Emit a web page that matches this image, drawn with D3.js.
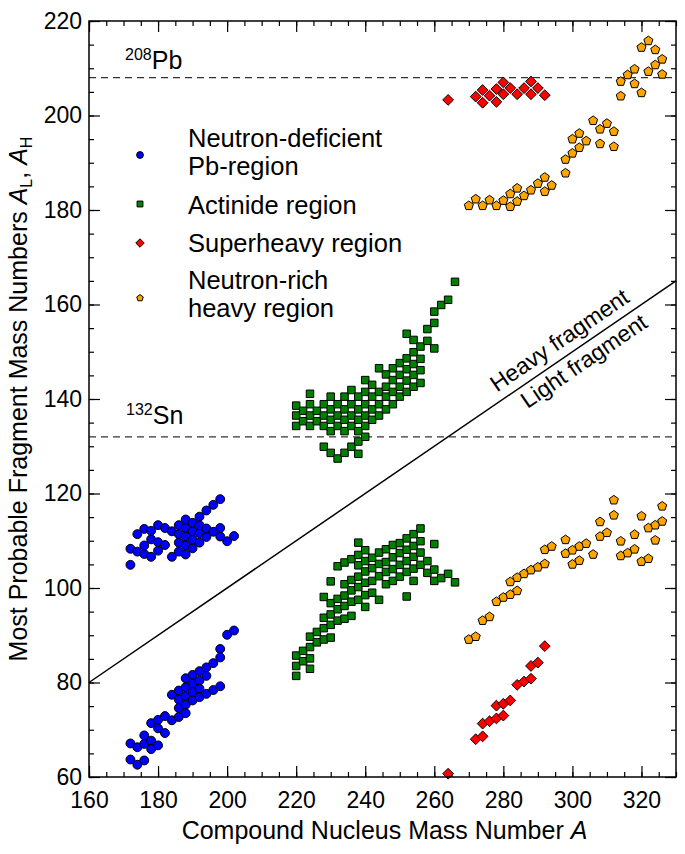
<!DOCTYPE html>
<html><head><meta charset="utf-8">
<script src="https://cdn.jsdelivr.net/npm/d3@7"></script>
<style>
html,body{margin:0;padding:0;background:#fff;}
svg{display:block;font-family:"Liberation Sans",Arial,Helvetica,sans-serif;}
</style></head>
<body><svg id="c" width="685" height="854"></svg>
<script>
// ---------- data: [compound nucleus A, fragment mass] ----------
const pbHeavy = [[172,104.9],[172,108.3],[174,107.7],[174,111.4],[176,107.2],[176,109.0],[176,112.5],[178,106.6],[178,110.3],[178,112.1],[180,107.9],[180,109.7],[180,113.3],[182,109.1],[182,112.7],[184,106.6],[184,112.0],[186,107.7],[186,109.6],[186,111.4],[186,113.3],[188,107.1],[188,109.0],[188,110.9],[188,112.7],[188,114.5],[190,108.4],[190,110.2],[190,112.0],[190,113.8],[192,109.6],[192,111.6],[192,113.3],[192,115.1],[194,110.8],[194,112.6],[194,116.4],[196,111.9],[196,117.6],[198,110.9],[198,112.7],[198,118.8],[200,109.9],[202,111.0]];
const pbLight = [[172,67.1],[172,63.7],[174,66.3],[174,62.6],[176,68.8],[176,67.0],[176,63.5],[178,71.4],[178,67.7],[178,65.9],[180,72.1],[180,70.3],[180,66.7],[182,72.9],[182,69.3],[184,77.4],[184,72.0],[186,78.3],[186,76.4],[186,74.6],[186,72.7],[188,80.9],[188,79.0],[188,77.1],[188,75.3],[188,73.5],[190,81.6],[190,79.8],[190,78.0],[190,76.2],[192,82.4],[192,80.4],[192,78.7],[192,76.9],[194,83.2],[194,81.4],[194,77.6],[196,84.1],[196,78.4],[198,87.1],[198,85.3],[198,79.2],[200,90.1],[202,91.0]];
const actHeavy = [[220,138.6],[220,136.5],[220,134.3],[222,137.5],[222,135.3],[224,141.1],[224,138.9],[224,136.5],[224,134.3],[226,137.5],[226,135.3],[228,138.9],[228,136.5],[228,134.3],[228,129.9],[230,140.5],[230,137.8],[230,135.6],[230,133.2],[230,128.6],[232,138.9],[232,136.5],[232,134.3],[232,127.4],[234,140.5],[234,137.8],[234,135.6],[234,133.2],[234,128.6],[236,141.9],[236,138.9],[236,136.5],[236,134.3],[236,129.9],[238,140.5],[238,137.8],[238,135.6],[238,133.2],[238,131.0],[238,128.4],[240,144.0],[240,141.5],[240,138.9],[240,136.5],[240,134.3],[240,132.0],[242,143.0],[242,140.5],[242,137.8],[242,135.6],[244,146.5],[244,141.5],[244,138.9],[244,136.5],[246,145.2],[246,142.6],[246,140.5],[246,137.8],[248,146.5],[248,144.0],[248,141.5],[248,138.9],[250,147.6],[250,145.1],[250,142.6],[250,140.5],[252,153.8],[252,148.6],[252,146.3],[252,143.9],[252,141.5],[254,152.5],[254,149.9],[254,147.4],[254,145.1],[254,142.6],[256,151.1],[256,148.5],[256,146.1],[256,143.4],[258,154.8],[258,152.3],[260,158.5],[260,156.1],[260,150.7],[262,159.9],[264,161.0],[266,164.8]];
const actLight = [[220,81.4],[220,83.5],[220,85.7],[222,84.5],[222,86.7],[224,82.9],[224,85.1],[224,87.5],[224,89.7],[226,88.5],[226,90.7],[228,89.1],[228,91.5],[228,93.7],[228,98.1],[230,89.5],[230,92.2],[230,94.4],[230,96.8],[230,101.4],[232,93.1],[232,95.5],[232,97.7],[232,104.6],[234,93.5],[234,96.2],[234,98.4],[234,100.8],[234,105.4],[236,94.1],[236,97.1],[236,99.5],[236,101.7],[236,106.1],[238,97.5],[238,100.2],[238,102.4],[238,104.8],[238,107.0],[238,109.6],[240,96.0],[240,98.5],[240,101.1],[240,103.5],[240,105.7],[240,108.0],[242,99.0],[242,101.5],[242,104.2],[242,106.4],[244,97.5],[244,102.5],[244,105.1],[244,107.5],[246,100.8],[246,103.4],[246,105.5],[246,108.2],[248,101.5],[248,104.0],[248,106.5],[248,109.1],[250,102.4],[250,104.9],[250,107.4],[250,109.5],[252,98.2],[252,103.4],[252,105.7],[252,108.1],[252,110.5],[254,101.5],[254,104.1],[254,106.6],[254,108.9],[254,111.4],[256,104.9],[256,107.5],[256,109.9],[256,112.6],[258,103.2],[258,105.7],[260,101.5],[260,103.9],[260,109.3],[262,102.1],[264,103.0],[266,101.2]];
const shHeavy = [[264,203.3],[272,204.0],[274,205.4],[274,202.7],[276,204.2],[278,205.6],[278,202.9],[280,207.0],[280,204.5],[282,205.8],[284,204.5],[286,205.8],[288,207.2],[288,204.5],[290,205.8],[292,204.3]];
const shLight = [[264,60.7],[272,68.0],[274,68.6],[274,71.3],[276,71.8],[278,72.4],[278,75.1],[280,73.0],[280,75.5],[282,76.2],[284,79.5],[286,80.2],[288,80.8],[288,83.5],[290,84.2],[292,87.7]];
const nrHeavy = [[270,180.9],[272,182.3],[274,180.9],[276,182.1],[278,180.9],[280,182.0],[282,180.7],[282,183.4],[284,181.8],[284,184.6],[286,183.0],[288,184.2],[290,185.6],[292,183.9],[292,186.9],[294,185.2],[298,187.8],[298,190.7],[300,192.0],[300,195.0],[302,193.2],[302,196.2],[304,194.6],[306,198.9],[308,197.1],[308,194.0],[310,198.3],[312,196.6],[312,193.4],[314,207.2],[314,204.1],[316,208.6],[318,209.8],[318,206.7],[320,214.4],[320,204.8],[322,215.8],[322,209.3],[324,213.9],[324,210.7],[326,211.9],[326,208.7]];
const nrLight = [[270,89.1],[272,89.7],[274,93.1],[276,93.9],[278,97.1],[280,98.0],[282,101.3],[282,98.6],[284,102.2],[284,99.4],[286,103.0],[288,103.8],[290,104.4],[292,108.1],[292,105.1],[294,108.8],[298,110.2],[298,107.3],[300,108.0],[300,105.0],[302,108.8],[302,105.8],[304,109.4],[306,107.1],[308,110.9],[308,114.0],[310,111.7],[312,115.4],[312,118.6],[314,106.8],[314,109.9],[316,107.4],[318,108.2],[318,111.3],[320,105.6],[320,115.2],[322,106.2],[322,112.7],[324,110.1],[324,113.3],[326,114.1],[326,117.3]];
const legendLabels = [["Neutron-deficient","Pb-region"],["Actinide region"],["Superheavy region"],["Neutron-rich","heavy region"]];
const xTicks = [160,180,200,220,240,260,280,300,320];
const yTicks = [60,80,100,120,140,160,180,200,220];
const refLines = [208,132];

// ---------- layout ----------
const svg = d3.select("#c");
const L = 89, R = 676, T = 21, B = 777;
const x = d3.scaleLinear().domain([160,330]).range([L,R]);
const y = d3.scaleLinear().domain([60,220]).range([B,T]);
const font = '"Liberation Sans",Arial,Helvetica,sans-serif';

// custom symbols
const pentagon = {draw(ctx,size){const r=Math.sqrt(size/2.3776);for(let i=0;i<5;i++){const a=-Math.PI/2+i*2*Math.PI/5;const px=r*Math.cos(a),py=r*Math.sin(a);i?ctx.lineTo(px,py):ctx.moveTo(px,py);}ctx.closePath();}};
const diamond = {draw(ctx,size){const r=Math.sqrt(size/2);ctx.moveTo(0,-r);ctx.lineTo(r,0);ctx.lineTo(0,r);ctx.lineTo(-r,0);ctx.closePath();}};
const series = [
  {data:[...pbHeavy,...pbLight], type:d3.symbolCircle, size:62, fill:"#0000ff", lsize:36},
  {data:[...actHeavy,...actLight], type:d3.symbolSquare, size:56, fill:"#008000", lsize:34},
  {data:[...shHeavy,...shLight], type:diamond, size:58, fill:"#ff0000", lsize:36},
  {data:[...nrHeavy,...nrLight], type:pentagon, size:54, fill:"#ffa500", lsize:28}
];

// minor/major ticks (inward, all four sides)
const gAx = svg.append("g");
const xMinor = d3.range(160,331,5), yMinor = d3.range(60,221,5);
gAx.append("g").attr("transform",`translate(0,${B})`)
  .call(d3.axisBottom(x).tickValues(xMinor).tickSize(-5).tickFormat(""));
gAx.append("g").attr("transform",`translate(0,${T})`)
  .call(d3.axisTop(x).tickValues(xMinor).tickSize(-5).tickFormat(""));
gAx.append("g").attr("transform",`translate(${L},0)`)
  .call(d3.axisLeft(y).tickValues(yMinor).tickSize(-5).tickFormat(""));
gAx.append("g").attr("transform",`translate(${R},0)`)
  .call(d3.axisRight(y).tickValues(yMinor).tickSize(-5).tickFormat(""));
gAx.append("g").attr("transform",`translate(0,${B})`)
  .call(d3.axisBottom(x).tickValues(xTicks).tickSize(-11).tickPadding(15).tickFormat(d3.format("d")));
gAx.append("g").attr("transform",`translate(0,${T})`)
  .call(d3.axisTop(x).tickValues(xTicks).tickSize(-11).tickFormat(""));
gAx.append("g").attr("transform",`translate(${L},0)`)
  .call(d3.axisLeft(y).tickValues(yTicks).tickSize(-11).tickPadding(7).tickFormat(d3.format("d")));
gAx.append("g").attr("transform",`translate(${R},0)`)
  .call(d3.axisRight(y).tickValues(yTicks).tickSize(-11).tickFormat(""));
gAx.selectAll(".domain").remove();
gAx.selectAll(".tick line").attr("stroke","#000").attr("stroke-width",1.2);
gAx.selectAll(".tick text").attr("font-size",23).attr("font-family",font).attr("fill","#000");

// reference dashed lines
svg.append("g").selectAll("line").data(refLines).join("line")
  .attr("x1",x(160)).attr("x2",x(330)).attr("y1",d=>y(d)).attr("y2",d=>y(d))
  .attr("stroke","#333").attr("stroke-width",1.3).attr("stroke-dasharray","7,5");

// diagonal A/2 line
svg.append("line").attr("x1",x(160)).attr("y1",y(80)).attr("x2",x(330)).attr("y2",y(165))
  .attr("stroke","#000").attr("stroke-width",1.5);

// points
series.forEach(s=>{
  const sym = d3.symbol().type(s.type).size(s.size);
  svg.append("g").selectAll("path").data(s.data).join("path")
    .attr("d",sym).attr("transform",d=>`translate(${x(d[0])},${y(d[1])})`)
    .attr("fill",s.fill).attr("stroke","#000").attr("stroke-width",1);
});

// frame
svg.append("rect").attr("x",L).attr("y",T).attr("width",R-L).attr("height",B-T)
  .attr("fill","none").attr("stroke","#000").attr("stroke-width",1.5);

// nuclide labels
const nuc = [{m:"208",s:"Pb",x:125,y:69},{m:"132",s:"Sn",x:126,y:424}];
nuc.forEach(n=>{
  const t = svg.append("text").attr("x",n.x).attr("y",n.y).attr("font-family",font).attr("font-size",25);
  t.append("tspan").attr("font-size",16).attr("dy",-9).text(n.m);
  t.append("tspan").attr("dy",9).text(n.s);
});

// diagonal labels
const ang = Math.atan2(y(80)-y(165), x(330)-x(160))*180/Math.PI;
[["Heavy fragment",-9,299],["Light fragment",22,301]].forEach(([txt,dy,a])=>{
  svg.append("text").attr("transform",`translate(${x(a)},${y(a/2)}) rotate(${-ang})`)
    .attr("y",dy).attr("text-anchor","middle").attr("font-family",font).attr("font-size",23).text(txt);
});

// legend
const legY = [[147,175],[214],[252],[289,317]];
const legM = [155,204,243,298];
series.forEach((s,i)=>{
  svg.append("path").attr("d",d3.symbol().type(s.type).size(s.lsize)())
    .attr("transform",`translate(140,${legM[i]})`).attr("fill",s.fill).attr("stroke","#000").attr("stroke-width",1);
  legendLabels[i].forEach((ln,j)=>{
    svg.append("text").attr("x",188).attr("y",legY[i][j]).attr("font-family",font).attr("font-size",25.5).text(ln);
  });
});

// axis titles
const xt = svg.append("text").attr("x",(L+R)/2+2).attr("y",839).attr("text-anchor","middle")
  .attr("font-family",font).attr("font-size",25);
xt.append("tspan").text("Compound Nucleus Mass Number ");
xt.append("tspan").attr("font-style","italic").text("A");

const yt = svg.append("text").attr("transform",`translate(27,${(T+B)/2}) rotate(-90)`)
  .attr("text-anchor","middle").attr("font-family",font).attr("font-size",25);
yt.append("tspan").text("Most Probable Fragment Mass Numbers ");
yt.append("tspan").attr("font-style","italic").text("A");
yt.append("tspan").attr("font-size",16).attr("dy",5).text("L");
yt.append("tspan").attr("dy",-5).text(", ");
yt.append("tspan").attr("font-style","italic").text("A");
yt.append("tspan").attr("font-size",16).attr("dy",5).text("H");
</script></body></html>
